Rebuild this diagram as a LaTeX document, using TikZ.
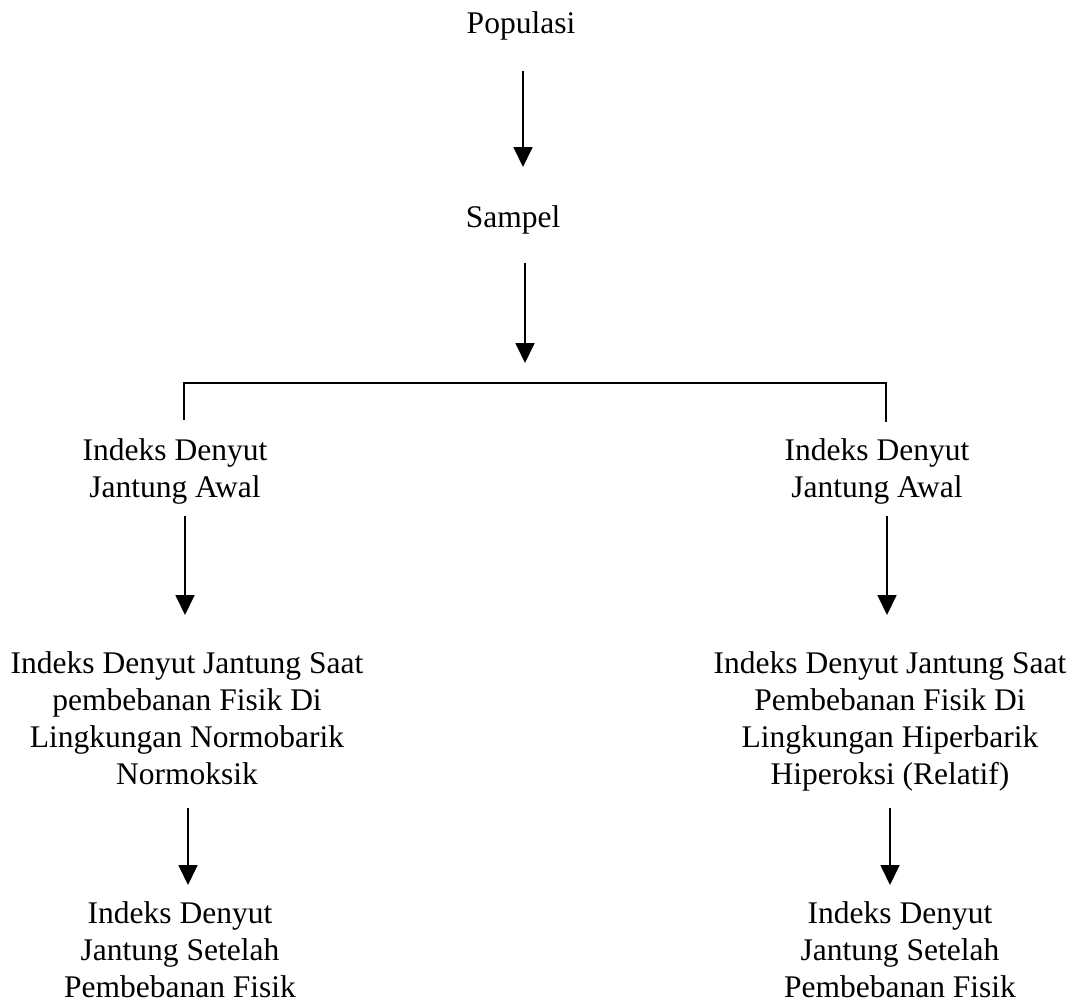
\documentclass[tikz,border=0pt]{standalone}
\usepackage{fontspec}
\setmainfont{Liberation Serif}
\usetikzlibrary{arrows.meta}
\tikzset{
  lbl/.style={inner sep=0pt, outer sep=0pt, align=center, anchor=north,
    font=\fontsize{31.5}{37}\selectfont},
  arr/.style={line width=1.8pt, -{Triangle[width=19pt,length=20pt]}},
  ln/.style={line width=1.8pt}
}
\begin{document}
\begin{tikzpicture}[x=1pt,y=-1pt]
\useasboundingbox (0,0) rectangle (1076,1004);
% column coordinates
\coordinate (c1) at (523,0);
\coordinate (c2) at (525,0);
\coordinate (jc) at (525,383);
\coordinate (tL) at (184,383);
\coordinate (tR) at (886,383);
\coordinate (cL3) at (185,0);
\coordinate (cR3) at (887,0);
\coordinate (cL4) at (188,0);
\coordinate (cR4) at (890,0);
% nodes
\node[lbl] (pop) at (521,12) {Populasi};
\node[lbl] (sam) at (513,205.5) {Sampel};
\node[lbl] (awL) at (175,438.5) {Indeks Denyut\\Jantung Awal};
\node[lbl] (awR) at (877,438.5) {Indeks Denyut\\Jantung Awal};
\node[lbl] (bigL) at (187,651.5) {Indeks Denyut Jantung Saat\\pembebanan Fisik Di\\Lingkungan Normobarik\\Normoksik};
\node[lbl] (bigR) at (890,651.5) {Indeks Denyut Jantung Saat\\Pembebanan Fisik Di\\Lingkungan Hiperbarik\\Hiperoksi (Relatif)};
\node[lbl] (botL) at (180,901.5) {Indeks Denyut\\Jantung Setelah\\Pembebanan Fisik};
\node[lbl] (botR) at (900,901.5) {Indeks Denyut\\Jantung Setelah\\Pembebanan Fisik};
% connectors
\draw[arr, shorten <=30.2pt, shorten >=38.5pt] (pop.south -| c1) -- (sam.north -| c1);
\draw[arr, shorten <=29.2pt, shorten >=20pt] (sam.south -| c2) -- (jc);
\draw[ln, line cap=rect] (tL) -- (tR);
\draw[ln, shorten >=18.5pt] (tL) -- (awL.north -| tL);
\draw[ln, shorten >=16.5pt] (tR) -- (awR.north -| tR);
\draw[arr, shorten <=12.2pt, shorten >=36.5pt] (awL.south -| cL3) -- (bigL.north -| cL3);
\draw[arr, shorten <=12.2pt, shorten >=36.5pt] (awR.south -| cR3) -- (bigR.north -| cR3);
\draw[arr, shorten <=23pt, shorten >=16.5pt] (bigL.south -| cL4) -- (botL.north -| cL4);
\draw[arr, shorten <=17.4pt, shorten >=16.5pt] (bigR.south -| cR4) -- (botR.north -| cR4);
\end{tikzpicture}
\end{document}
